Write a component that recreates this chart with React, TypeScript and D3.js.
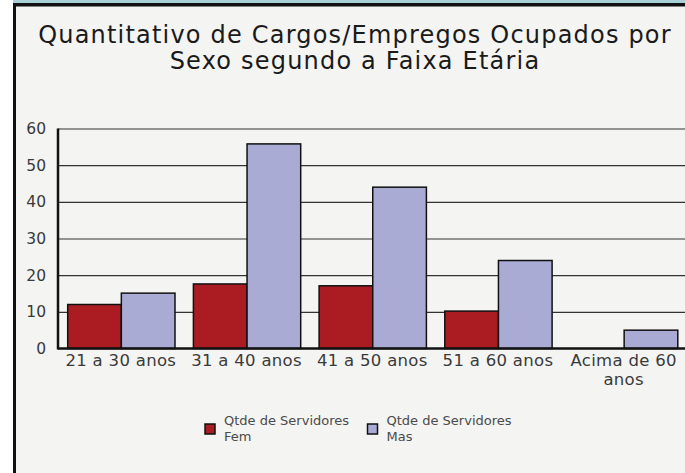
import { useEffect, useRef } from 'react'
import * as d3 from 'd3'

const categories = ['21 a 30 anos', '31 a 40 anos', '41 a 50 anos', '51 a 60 anos', 'Acima de 60 anos']
const seriesNames = ['Qtde de Servidores Fem', 'Qtde de Servidores Mas']
const femValues = [12, 17.6, 17.1, 10.2, 0]
const masValues = [15.1, 55.8, 44, 24, 5]
const yTicks = [0, 10, 20, 30, 40, 50, 60]
const titleLines = ['Quantitativo de Cargos/Empregos Ocupados por', 'Sexo segundo a Faixa Etária']

const colors = {
  bg: '#f4f4f2',
  strip: '#a9d0d7',
  fem: '#ab1c22',
  mas: '#aaabd4',
  text: '#1a1a1a',
  axisText: '#3a3a3a',
  legendText: '#4a4a4a',
}
const FONT = '"DejaVu Sans", Verdana, sans-serif'

export default function App() {
  const ref = useRef<SVGSVGElement>(null)

  useEffect(() => {
    if (!ref.current) return
    document.body.style.overflow = 'hidden'
    d3.select(ref.current).selectAll('*').remove()
    render(ref.current)
  }, [])

  return (
    <svg
      ref={ref}
      width={685}
      height={473}
      style={{ position: 'absolute', left: 0, top: 0, display: 'block' }}
    />
  )
}

function render(el: SVGSVGElement) {
  const W = 685
  const H = 473
  const plot = { left: 58, right: 686.5, top: 128.5, bottom: 348.5 }

  const svg = d3.select(el).attr('viewBox', `0 0 ${W} ${H}`).style('font-family', FONT)

  // frame
  svg.append('rect').attr('width', W).attr('height', H).attr('fill', '#ffffff')
  svg.append('rect').attr('x', 13).attr('y', 0).attr('width', W - 13).attr('height', H).attr('fill', colors.bg)
  svg.append('rect').attr('x', 13).attr('y', 0).attr('width', W - 13).attr('height', 3).attr('fill', colors.strip)
  svg.append('rect').attr('x', 13).attr('y', 3).attr('width', W - 13).attr('height', 3.5).attr('fill', '#111')
  svg.append('rect').attr('x', 13).attr('y', 3).attr('width', 3).attr('height', H - 3).attr('fill', '#111')

  // title
  titleLines.forEach((line, i) => {
    svg.append('text')
      .attr('x', 355)
      .attr('y', 43 + i * 26)
      .attr('text-anchor', 'middle')
      .attr('font-size', 24)
      .attr('letter-spacing', 1.2)
      .attr('fill', colors.text)
      .text(line)
  })

  const x0 = d3.scaleBand().domain(categories).range([plot.left, plot.right]).padding(0)
  const x1 = d3.scaleBand().domain(seriesNames).range([9.7, 117]).padding(0)
  const y = d3.scaleLinear().domain([0, 60]).range([plot.bottom, plot.top])

  // grid
  const g = svg.append('g')
  g.append('g')
    .call(d3.axisLeft(y).tickValues(yTicks.slice(1)).tickSize(-(W - plot.left)).tickFormat(() => ''))
    .attr('transform', `translate(${plot.left},0)`)
    .call((sel) => sel.select('.domain').remove())
    .call((sel) => sel.selectAll('line').attr('stroke', '#333').attr('stroke-width', 1.2))

  // bars
  const rows = categories.map((c, i) => ({ c, vals: [femValues[i], masValues[i]] }))
  rows.forEach(({ c, vals }) => {
    vals.forEach((v, j) => {
      if (v <= 0) return
      const bx = x0(c)! + x1(seriesNames[j])!
      g.append('rect')
        .attr('x', bx)
        .attr('y', y(v))
        .attr('width', x1.bandwidth())
        .attr('height', y(0) - y(v))
        .attr('fill', j === 0 ? colors.fem : colors.mas)
        .attr('stroke', '#111')
        .attr('stroke-width', 1.5)
    })
  })

  // axes lines
  g.append('line')
    .attr('x1', plot.left).attr('x2', plot.left)
    .attr('y1', plot.top).attr('y2', plot.bottom + 1)
    .attr('stroke', '#111').attr('stroke-width', 2.5)
  g.append('line')
    .attr('x1', plot.left).attr('x2', W)
    .attr('y1', plot.bottom).attr('y2', plot.bottom)
    .attr('stroke', '#111').attr('stroke-width', 2.5)

  // y tick labels
  yTicks.forEach((t) => {
    svg.append('text')
      .attr('x', 46)
      .attr('y', y(t) + 5.5)
      .attr('text-anchor', 'end')
      .attr('font-size', 15.5)
      .attr('fill', colors.axisText)
      .text(t)
  })

  // x labels
  categories.forEach((c) => {
    const cx = x0(c)! + x0.bandwidth() / 2
    const lines = c === 'Acima de 60 anos' ? ['Acima de 60', 'anos'] : [c]
    lines.forEach((line, i) => {
      svg.append('text')
        .attr('x', cx)
        .attr('y', 366 + i * 19)
        .attr('text-anchor', 'middle')
        .attr('font-size', 16.5)
        .attr('letter-spacing', 0.3)
        .attr('fill', colors.axisText)
        .text(line)
    })
  })

  // legend
  const legendX = [205, 367.5]
  seriesNames.forEach((name, i) => {
    svg.append('rect')
      .attr('x', legendX[i])
      .attr('y', 424)
      .attr('width', 10)
      .attr('height', 10)
      .attr('fill', i === 0 ? colors.fem : colors.mas)
      .attr('stroke', '#111')
      .attr('stroke-width', 1.5)
    const parts = [name.replace(/ (Fem|Mas)$/, ''), name.split(' ').pop()!]
    parts.forEach((p, k) => {
      svg.append('text')
        .attr('x', legendX[i] + 19)
        .attr('y', 425 + k * 15.5)
        .attr('font-size', 13)
        .attr('fill', colors.legendText)
        .text(p)
    })
  })
}
